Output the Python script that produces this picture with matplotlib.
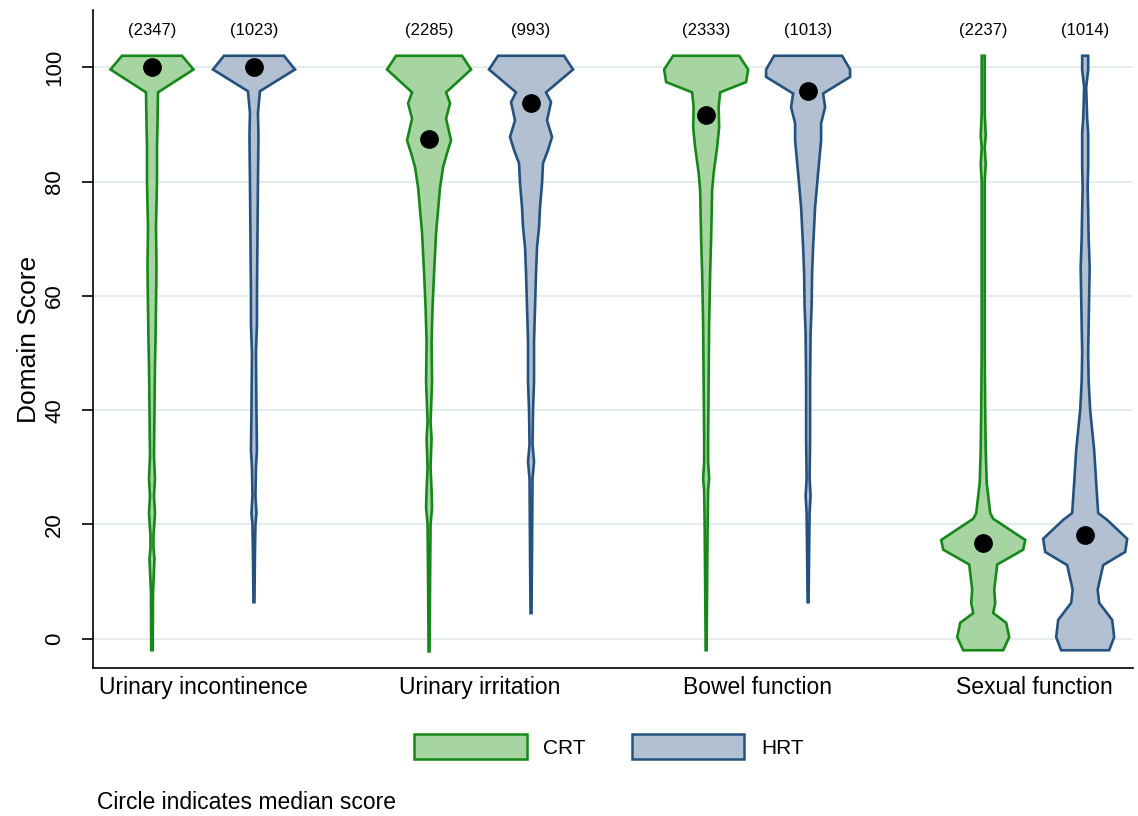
import numpy as np
import matplotlib
matplotlib.use('Agg')
import matplotlib.pyplot as plt
from matplotlib.patches import Patch

plt.rcParams['font.family'] = ['Liberation Sans', 'DejaVu Sans']

domains = ['Urinary incontinence', 'Urinary irritation', 'Bowel function', 'Sexual function']
groups = ['CRT', 'HRT']
counts_crt = [2347, 2285, 2333, 2237]
counts_hrt = [1023, 993, 1013, 1014]
median_crt = [100, 87.5, 91.7, 16.7]
median_hrt = [100, 93.75, 95.8, 18.1]

# estimated density outlines (score level, half width)
crt_ui_y = [-2, 8, 14, 16, 18, 22, 25, 28, 32, 40, 48, 52, 58, 65, 72, 80, 86, 90, 95.6, 99.6, 102]
crt_ui_w = [0.8, 1, 2.5, 1.5, 1.5, 3, 2, 3, 2, 2.5, 3, 3.5, 4, 4.5, 4, 5, 5, 5.5, 6, 41.5, 30]
hrt_ui_y = [6.4, 15, 20, 22, 25, 30, 33, 40, 50, 55, 60, 70, 80, 88, 92, 95.8, 99.6, 102]
hrt_ui_w = [0.5, 1, 1.5, 2.5, 1.5, 2, 3, 2.5, 2, 3, 3, 3.5, 4, 4.5, 4, 6, 41, 30]

crt_ir_y = [-2.2, 10, 20, 23, 26, 30, 35, 38, 45, 52, 58, 64, 71, 79, 82.5, 85, 87.2, 91, 93.7, 95.6, 99.6, 102]
crt_ir_w = [0.5, 1, 1.5, 3, 2.5, 1.5, 2.5, 1.5, 3, 2.5, 3.5, 5, 7, 11, 14, 18, 22, 17, 21, 17, 42, 33]
hrt_ir_y = [4.5, 15, 28, 31, 34, 40, 45, 52, 58, 64, 68.5, 72, 75.5, 79.7, 83.2, 85.5, 87.8, 90.7, 93.9, 95.6, 99.6, 102]
hrt_ir_w = [0.5, 1, 1.5, 3, 1.5, 2, 3, 3, 4, 5, 6, 8, 9, 11, 12, 17, 21, 16, 20, 15, 42, 33]

crt_bf_y = [-2, 10, 20, 26, 28, 31, 35, 45, 55, 64, 70, 78.5, 81.5, 86, 89.5, 93, 95.6, 97.4, 99.6, 102]
crt_bf_w = [0.5, 1, 1.5, 2, 3, 2, 2, 2.5, 3, 4, 5, 6, 7.5, 11, 13, 12.5, 14, 40, 42, 33]
hrt_bf_y = [6.4, 15, 22, 25, 28, 35, 45, 53.5, 58, 64, 68.5, 72, 75.5, 81.5, 87.2, 90.2, 93, 95.4, 98.3, 99.6, 102]
hrt_bf_w = [0.5, 1, 1.5, 2.5, 1.5, 2, 2, 2.5, 3.5, 4, 5, 6, 7, 10, 13, 13, 17, 15, 42, 42, 34]

crt_sf_y = [-2, 0.3, 2.8, 4.5, 6.3, 8.6, 13, 15.6, 17.3, 21, 22, 27.3, 33, 40, 50, 60, 70, 80, 83, 86, 88, 92, 102]
crt_sf_w = [20, 26, 23, 10, 12, 11, 14, 40, 42, 10, 7, 3.5, 2.5, 2, 1.5, 1.5, 1.5, 1.5, 2.5, 1.5, 2.5, 1.5, 1.5]
hrt_sf_y = [-2, 0.3, 3.3, 6.3, 8.6, 12.9, 15.2, 17.5, 20.8, 22, 27.3, 33, 40, 45, 50, 55, 60, 65, 70, 75, 79, 82.5, 88.5, 91, 96.5, 99.5, 102]
hrt_sf_w = [24, 29, 27, 14, 12.5, 18, 40, 42, 22, 13, 11, 9, 5, 3.5, 3, 3.5, 4, 4.5, 3.5, 3, 2.5, 3, 3, 2, 1, 3, 3]

crt_shapes = [(crt_ui_y, crt_ui_w), (crt_ir_y, crt_ir_w), (crt_bf_y, crt_bf_w), (crt_sf_y, crt_sf_w)]
hrt_shapes = [(hrt_ui_y, hrt_ui_w), (hrt_ir_y, hrt_ir_w), (hrt_bf_y, hrt_bf_w), (hrt_sf_y, hrt_sf_w)]

crt_fill, crt_edge = '#a6d5a2', '#16881a'
hrt_fill, hrt_edge = '#b2c0d2', '#24527e'

wscale = 1 / 277.0
offset = 0.184


def violin(ax, xc, ys, ws, fc, ec):
    ys = np.array(ys, dtype=float)
    ws = np.array(ws, dtype=float) * wscale
    xs = np.concatenate([xc + ws, (xc - ws)[::-1]])
    yy = np.concatenate([ys, ys[::-1]])
    ax.fill(xs, yy, facecolor=fc, edgecolor=ec, linewidth=1.9, zorder=3)


fig = plt.figure(figsize=(11.38, 8.16), dpi=100)
ax = fig.add_axes([0.0817, 0.1814, 0.914, 0.8063])

pos = np.arange(1, len(domains) + 1)
for i, p in enumerate(pos):
    violin(ax, p - offset, *crt_shapes[i], crt_fill, crt_edge)
    violin(ax, p + offset, *hrt_shapes[i], hrt_fill, hrt_edge)
    ax.plot(p - offset, median_crt[i], 'o', color='black', markersize=12.5, zorder=4)
    ax.plot(p + offset, median_hrt[i], 'o', color='black', markersize=12.5, zorder=4)
    ax.text(p - offset, 106.5, '({})'.format(counts_crt[i]), ha='center', va='center', fontsize=12)
    ax.text(p + offset, 106.5, '({})'.format(counts_hrt[i]), ha='center', va='center', fontsize=12)

ax.set_xlim(0.603, 4.357)
ax.set_ylim(-5.1, 110)
ax.set_yticks([0, 20, 40, 60, 80, 100])
ax.set_yticklabels(['0', '20', '40', '60', '80', '100'], rotation=90, va='center', fontsize=16)
ax.set_xticks(pos)
ax.set_xticklabels(domains, fontsize=16.5)
ax.tick_params(axis='x', length=0, pad=6)
ax.tick_params(axis='y', length=8, width=1.2, pad=12)
ax.grid(axis='y', color='#e5ecef', linewidth=1.5, zorder=0)
ax.set_axisbelow(True)
for s in ['top', 'right']:
    ax.spines[s].set_visible(False)
for s in ['left', 'bottom']:
    ax.spines[s].set_linewidth(1.2)
ax.set_ylabel('Domain Score', fontsize=19)
ax.yaxis.set_label_coords(-0.05, 0.5)

handles = [Patch(facecolor=crt_fill, edgecolor=crt_edge, linewidth=1.8),
           Patch(facecolor=hrt_fill, edgecolor=hrt_edge, linewidth=1.8)]
fig.legend(handles, groups, loc='center', bbox_to_anchor=(0.535, 0.085), ncol=2, frameon=False,
           handlelength=5.4, handleheight=1.5, handletextpad=0.8, columnspacing=2.2, fontsize=15)
fig.text(0.085, 0.016, 'Circle indicates median score', fontsize=16.5, va='center')

fig.savefig('out.png', dpi=100)
